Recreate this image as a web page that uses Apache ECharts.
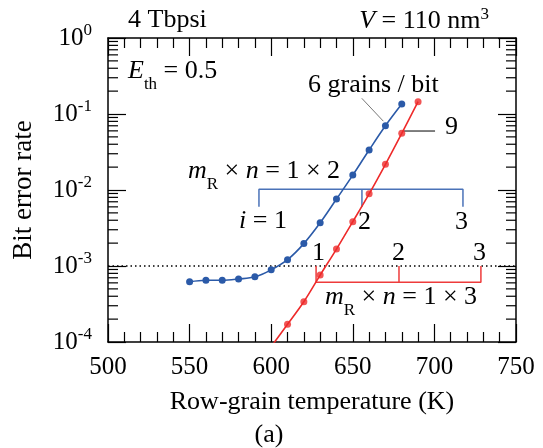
<!DOCTYPE html>
<html>
<head>
<meta charset="utf-8">
<script src="https://cdn.jsdelivr.net/npm/echarts@6/dist/echarts.min.js"></script>
<style>
html,body{margin:0;padding:0;background:#fff;}
#chart{width:543px;height:448px;}
</style>
</head>
<body>
<div id="chart"></div>
<script>
// ---- data ----
const blueT = [550, 560, 570, 580, 590, 600, 610, 620, 630, 640, 650, 660, 670, 680];
const blueBER = [6.2e-4, 6.5e-4, 6.5e-4, 6.75e-4, 7.2e-4, 8.9e-4, 1.21e-3, 1.97e-3, 3.7e-3, 7.6e-3, 1.57e-2, 3.36e-2, 7.0e-2, 0.135];
const redT = [610, 620, 630, 640, 650, 660, 670, 680, 690];
const redBER = [1.71e-4, 3.39e-4, 7.6e-4, 1.67e-3, 3.83e-3, 8.9e-3, 2.18e-2, 5.57e-2, 0.145];
const redFitStartT = 600;        // fit curve continues below the axis
const redFitStartBER = 8.7e-5;
const threshold = 1e-3;
const blueBracketT = [592.5, 655.6, 717.5];
const blueBracketBER = [1.02e-2, 6.0e-3];   // [bar level, tick end]
const redBracketT = [627.5, 678.3, 728.5];
const redBracketBER = [6.1e-4, 1e-3];       // [bar level, tick end]
const grainsLeaderT = [655.5, 668.7];
const grainsLeaderBER = [0.161, 0.0805];
const nineLeaderT = [681, 700.4];
const nineLeaderBER = [0.0597, 0.0597];
const xTicks = {min: 500, max: 750, interval: 50};
const yRange = {min: 1e-4, max: 1};
const logMinorMultipliers = [2, 3, 4, 5, 6, 7, 8, 9];
const logDecades = [1e-4, 1e-3, 1e-2, 1e-1];

const FONT = '"Liberation Serif", "Times New Roman", serif';
const BLUE = '#2b5aa8';
const RED = '#ee2a2a';
const BLUE_BR = '#4a72b8';
const RED_BR = '#ee3b3b';

const zip = (a, b) => a.map((v, i) => [v, b[i]]);
const minorVals = [];
logDecades.forEach(d => logMinorMultipliers.forEach(m => minorVals.push([500, m * d])));

const chart = echarts.init(document.getElementById('chart'), null, {renderer: 'canvas'});

function axisX(pos, labels) {
  return {
    type: 'value', position: pos, min: xTicks.min, max: xTicks.max, interval: xTicks.interval,
    axisLine: {show: true, onZero: false, lineStyle: {color: '#000', width: 1.5}},
    axisTick: {show: true, inside: true, length: 18, lineStyle: {color: '#000', width: 1.2}},
    minorTick: {show: true, splitNumber: 5, length: 10, lineStyle: {color: '#000', width: 1.2}},
    splitLine: {show: false}, minorSplitLine: {show: false},
    axisLabel: {show: labels, color: '#000', fontFamily: FONT, fontSize: 25, margin: 13},
    name: labels ? 'Row-grain temperature (K)' : '',
    nameLocation: 'middle', nameGap: 47,
    nameTextStyle: {color: '#000', fontFamily: FONT, fontSize: 26}
  };
}
function axisY(pos, labels) {
  return {
    type: 'log', logBase: 10, position: pos, min: yRange.min, max: yRange.max,
    axisLine: {show: true, onZero: false, lineStyle: {color: '#000', width: 1.5}},
    axisTick: {show: true, inside: true, length: 18, lineStyle: {color: '#000', width: 1.2}},
    minorTick: {show: false},
    splitLine: {show: false},
    axisLabel: {
      show: labels, margin: 16,
      formatter: v => '{b|10}{s|' + Math.round(Math.log10(v)) + '}',
      rich: {
        b: {fontFamily: FONT, fontSize: 25, color: '#000', lineHeight: 32},
        s: {fontFamily: FONT, fontSize: 17, color: '#000', lineHeight: 16, verticalAlign: 'top'}
      }
    },
    name: labels ? 'Bit error rate' : '',
    nameLocation: 'middle', nameGap: 71,
    nameTextStyle: {color: '#000', fontFamily: FONT, fontSize: 27}
  };
}

const richBase = {
  n: {fontFamily: FONT, fontSize: 26, color: '#000', lineHeight: 30},
  i: {fontFamily: FONT, fontSize: 26, fontStyle: 'italic', color: '#000', lineHeight: 30},
  sub: {fontFamily: FONT, fontSize: 17, color: '#000', lineHeight: 17, verticalAlign: 'top', padding: [20, 0, 0, 0]},
  sup: {fontFamily: FONT, fontSize: 17, color: '#000', lineHeight: 17, verticalAlign: 'top'}
};
function txt(text, x, y, align) {
  return {
    type: 'text', z: 100,
    style: {text: text, x: x, y: y, align: align || 'left', verticalAlign: 'middle',
      fontFamily: FONT, fontSize: 26, fill: '#000', rich: richBase}
  };
}

function lineSeries(data, color, width, extra) {
  return Object.assign({
    type: 'line', data: data, showSymbol: false, symbol: 'none', silent: true,
    lineStyle: {color: color, width: width}, clip: true, z: 3
  }, extra || {});
}

const option = {
  animation: false,
  backgroundColor: '#fff',
  grid: {left: 108, right: 27, top: 38, bottom: 106, containLabel: false},
  xAxis: [axisX('bottom', true), axisX('top', false)],
  yAxis: [axisY('left', true), axisY('right', false)],
  series: [
    {
      type: 'custom', silent: true, data: minorVals, z: 2,
      renderItem: function (params, api) {
        const v = api.value(1);
        const pL = api.coord([xTicks.min, v]);
        const pR = api.coord([xTicks.max, v]);
        return {type: 'group', children: [
          {type: 'line', shape: {x1: pL[0], y1: pL[1], x2: pL[0] + 10, y2: pL[1]}, style: {stroke: '#000', lineWidth: 1.2}},
          {type: 'line', shape: {x1: pR[0], y1: pR[1], x2: pR[0] - 10, y2: pR[1]}, style: {stroke: '#000', lineWidth: 1.2}}
        ]};
      }
    },
    lineSeries([[xTicks.min, threshold], [xTicks.max, threshold]], '#000', 1.5, {lineStyle: {color: '#000', width: 1.5, type: [1.5, 3]}}),
    lineSeries(zip(blueT, blueBER), BLUE, 1.6, {
      smooth: 0.35, showSymbol: true, symbol: 'circle', symbolSize: 7,
      itemStyle: {color: BLUE}, z: 5
    }),
    lineSeries([[redFitStartT, redFitStartBER]].concat(zip(redT, redBER)), RED, 1.6, {smooth: 0.3, z: 4}),
    {type: 'scatter', data: zip(redT, redBER), symbol: 'circle', symbolSize: 7, itemStyle: {color: RED}, silent: true, z: 6},
    // blue bracket (m_R x n = 1 x 2)
    lineSeries([[blueBracketT[0], blueBracketBER[1]], [blueBracketT[0], blueBracketBER[0]], [blueBracketT[2], blueBracketBER[0]], [blueBracketT[2], blueBracketBER[1]]], BLUE_BR, 1.5),
    lineSeries([[blueBracketT[1], blueBracketBER[0]], [blueBracketT[1], blueBracketBER[1]]], BLUE_BR, 1.5),
    // red bracket (m_R x n = 1 x 3)
    lineSeries([[redBracketT[0], redBracketBER[1]], [redBracketT[0], redBracketBER[0]], [redBracketT[2], redBracketBER[0]], [redBracketT[2], redBracketBER[1]]], RED_BR, 1.5),
    lineSeries([[redBracketT[1], redBracketBER[0]], [redBracketT[1], redBracketBER[1]]], RED_BR, 1.5),
    // leader lines
    lineSeries(zip(grainsLeaderT, grainsLeaderBER), '#777', 1),
    lineSeries(zip(nineLeaderT, nineLeaderBER), '#000', 1)
  ],
  graphic: [
    txt('4 Tbpsi', 128, 20.5),
    txt('{i|V}{n| = 110 nm}{sup|3}', 489, 21, 'right'),
    txt('{i|E}{sub|th}{n| = 0.5}', 128, 71),
    txt('6 grains / bit', 308, 85),
    txt('9', 445, 127),
    txt('{i|m}{sub|R}{n| × }{i|n}{n| = 1 × 2}', 188, 171),
    txt('{i|i}{n| = 1}', 239, 221.5),
    txt('2', 358, 222),
    txt('3', 455, 222),
    txt('1', 312, 253.5),
    txt('2', 392, 253.5),
    txt('3', 473, 253.5),
    txt('{i|m}{sub|R}{n| × }{i|n}{n| = 1 × 3}', 325, 297),
    txt('(a)', 269, 435, 'center')
  ]
};
chart.setOption(option);
</script>
</body>
</html>
